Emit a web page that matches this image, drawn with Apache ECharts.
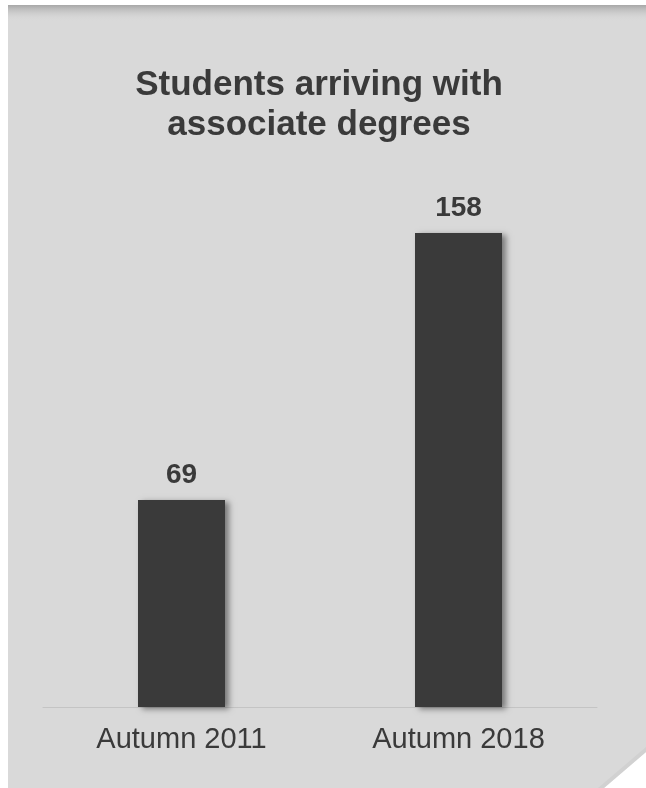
<!DOCTYPE html>
<html>
<head>
<meta charset="utf-8">
<script src="https://cdn.jsdelivr.net/npm/echarts@6/dist/echarts.min.js"></script>
<style>
  html, body { margin: 0; padding: 0; background: #ffffff; }
  #chart { width: 646px; height: 788px; }
</style>
</head>
<body>
<div id="chart"></div>
<script>
const categories = ['Autumn 2011', 'Autumn 2018'];
const values = [69, 158];
const titleText = 'Students arriving with\nassociate degrees';

const chart = echarts.init(document.getElementById('chart'), null, { renderer: 'canvas' });
const textColor = '#3a3a3a';
const font = 'Arial, "Liberation Sans", Helvetica, sans-serif';

chart.setOption({
  backgroundColor: '#ffffff',
  animation: false,
  graphic: [
    {
      type: 'polygon', z: -10, silent: true,
      shape: { points: [[8, 5], [646, 5], [646, 752], [604, 788], [8, 788]] },
      style: { fill: '#d9d9d9' }
    },
    {
      type: 'rect', z: -9, silent: true,
      shape: { x: 8, y: 5, width: 638, height: 16 },
      style: {
        fill: new echarts.graphic.LinearGradient(0, 0, 0, 1, [
          { offset: 0, color: 'rgba(150,150,150,0.75)' },
          { offset: 1, color: 'rgba(217,217,217,0)' }
        ])
      }
    },
    {
      type: 'polygon', z: -9, silent: true,
      shape: { points: [[646, 752], [604, 788], [598, 788], [646, 747]] },
      style: { fill: 'rgba(205,205,205,0.7)' }
    }
  ],
  title: {
    text: titleText,
    left: 319,
    top: 65,
    textAlign: 'center',
    padding: 0,
    textStyle: {
      fontFamily: font,
      fontWeight: 'bold',
      fontSize: 35,
      lineHeight: 40,
      color: textColor
    }
  },
  grid: { left: 43, right: 49, top: 167, bottom: 81, containLabel: false },
  xAxis: {
    type: 'category',
    data: categories,
    axisLine: { show: true, lineStyle: { color: '#c4c4c4', width: 1 } },
    axisTick: { show: false },
    axisLabel: {
      fontFamily: font,
      fontSize: 29,
      color: textColor,
      margin: 18
    }
  },
  yAxis: {
    type: 'value',
    min: 0,
    max: 180,
    show: false,
    splitLine: { show: false }
  },
  series: [{
    type: 'bar',
    data: values,
    barWidth: 87,
    itemStyle: {
      color: '#3a3a3a',
      shadowColor: 'rgba(0,0,0,0.45)',
      shadowBlur: 6,
      shadowOffsetX: 4,
      shadowOffsetY: 2
    },
    label: {
      show: true,
      position: 'top',
      distance: 11,
      fontFamily: font,
      fontWeight: 'bold',
      fontSize: 28,
      color: textColor
    }
  }]
});
</script>
</body>
</html>
